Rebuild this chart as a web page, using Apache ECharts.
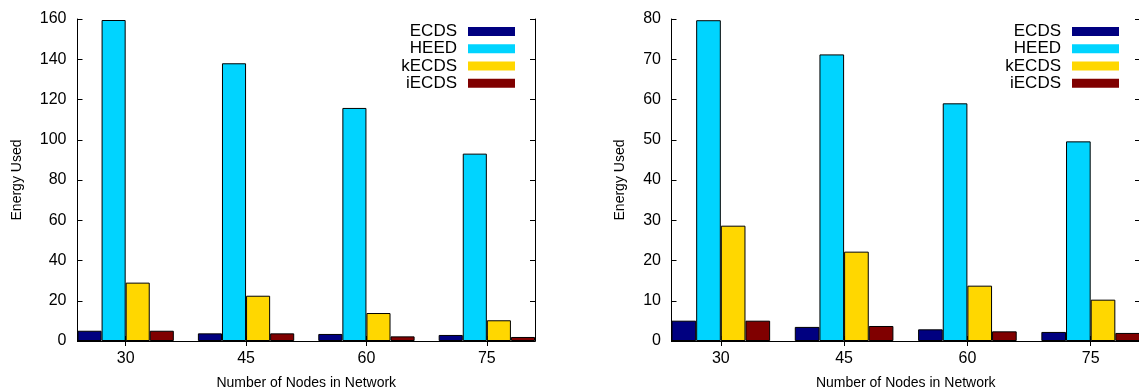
<!DOCTYPE html>
<html>
<head>
<meta charset="utf-8">
<script src="https://cdn.jsdelivr.net/npm/echarts@6/dist/echarts.min.js"></script>
<style>
html,body{margin:0;padding:0;background:#fff;}
#c{width:1139px;height:391px;}
</style>
</head>
<body>
<div id="c"></div>
<script>
// ---- data ----
const nodes = [30, 45, 60, 75];
const seriesNames = ['ECDS', 'HEED', 'kECDS', 'iECDS'];
// left chart
const leftECDS  = [5.1, 3.8, 3.5, 3.0];
const leftHEED  = [159.5, 138, 115.8, 93.1];
const leftKECDS = [29.0, 22.5, 13.9, 10.3];
const leftIECDS = [5.1, 3.8, 2.3, 2.0];
const leftTicksY = {min: 0, max: 160, interval: 20};
// right chart
const rightECDS  = [5.05, 3.5, 2.9, 2.25];
const rightHEED  = [79.7, 71.2, 59.05, 49.6];
const rightKECDS = [28.65, 22.2, 13.75, 10.27];
const rightIECDS = [5.05, 3.73, 2.4, 2.0];
const rightTicksY = {min: 0, max: 80, interval: 10};
const xTitle = 'Number of Nodes in Network';
const yTitle = 'Energy Used';

const colors = ['#000080', '#00d4ff', '#ffd700', '#800000'];
const FONT = '"Liberation Sans", Arial, sans-serif';

function pairs(vals) { return nodes.map((n, i) => [n, vals[i]]); }

const xMin = 24, xMax = 81;
function xAxes(gridIndex, nameGap) {
  return [
    {
      type: 'value', gridIndex: gridIndex, position: 'bottom', min: xMin, max: xMax,
      name: xTitle, nameLocation: 'middle', nameGap: nameGap,
      nameTextStyle: {fontFamily: FONT, fontSize: 14, color: '#000'},
      axisLine: {show: true, lineStyle: {color: '#000', width: 1}},
      axisTick: {show: true, inside: true, length: 5, customValues: nodes, lineStyle: {color: '#000'}},
      axisLabel: {show: true, customValues: nodes, margin: 10, fontFamily: FONT, fontSize: 16, color: '#000'},
      splitLine: {show: false}
    },
    {
      type: 'value', gridIndex: gridIndex, position: 'top', min: xMin, max: xMax,
      axisLine: {show: true, lineStyle: {color: '#000', width: 1}},
      axisTick: {show: true, inside: true, length: 5, customValues: nodes, lineStyle: {color: '#000'}},
      axisLabel: {show: false},
      splitLine: {show: false}
    }
  ];
}
function yAxes(gridIndex, t, nameGap, labelMargin) {
  return [
    {
      type: 'value', gridIndex: gridIndex, position: 'left', min: t.min, max: t.max, interval: t.interval,
      name: yTitle, nameLocation: 'middle', nameGap: nameGap,
      nameTextStyle: {fontFamily: FONT, fontSize: 14, color: '#000'},
      axisLine: {show: true, lineStyle: {color: '#000', width: 1}},
      axisTick: {show: true, inside: true, length: 5, lineStyle: {color: '#000'}},
      axisLabel: {show: true, margin: labelMargin, fontFamily: FONT, fontSize: 16, color: '#000'},
      splitLine: {show: false}
    },
    {
      type: 'value', gridIndex: gridIndex, position: 'right', min: t.min, max: t.max, interval: t.interval,
      axisLine: {show: true, lineStyle: {color: '#000', width: 1}},
      axisTick: {show: true, inside: true, length: 5, lineStyle: {color: '#000'}},
      axisLabel: {show: false},
      splitLine: {show: false}
    }
  ];
}
function barSeries(gridIdx, arrays) {
  return arrays.map((vals, i) => ({
    name: seriesNames[i],
    type: 'bar',
    xAxisIndex: gridIdx * 2,
    yAxisIndex: gridIdx * 2,
    data: pairs(vals),
    barGap: '0%',
    barCategoryGap: '20%',
    itemStyle: {color: colors[i], borderColor: '#000', borderWidth: 1},
    emphasis: {disabled: true},
    animation: false
  }));
}
function legend(right) {
  return {
    orient: 'vertical', right: right, top: 23, padding: 0, itemGap: 0,
    align: 'right', itemWidth: 47, itemHeight: 9, icon: 'rect',
    itemStyle: {borderWidth: 0},
    textStyle: {fontFamily: FONT, fontSize: 17, color: '#000', lineHeight: 17.2, padding: [0, 6, 0, 0]},
    data: seriesNames,
    selectedMode: false
  };
}

const chart = echarts.init(document.getElementById('c'), null, {renderer: 'canvas'});
chart.setOption({
  animation: false,
  backgroundColor: '#fff',
  color: colors,
  grid: [
    {left: 77.5, top: 19, width: 457.5, height: 322, containLabel: false, outerBoundsMode: 'none'},
    {left: 671.5, top: 19, width: 468.5, height: 322, containLabel: false, outerBoundsMode: 'none'}
  ],
  xAxis: xAxes(0, 35).concat(xAxes(1, 35)),
  yAxis: yAxes(0, leftTicksY, 53.5, 11).concat(yAxes(1, rightTicksY, 44.5, 10.5)),
  legend: [legend(624), legend(20)],
  series: barSeries(0, [leftECDS, leftHEED, leftKECDS, leftIECDS])
    .concat(barSeries(1, [rightECDS, rightHEED, rightKECDS, rightIECDS]))
});
</script>
</body>
</html>
